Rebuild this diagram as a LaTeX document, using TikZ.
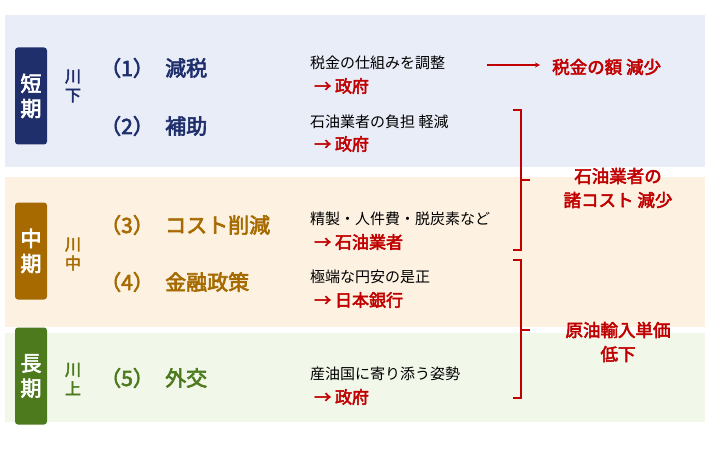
\documentclass[tikz,border=0pt]{standalone}
\usepackage{fontspec}
\setmainfont{Noto Sans CJK JP}
\newfontfamily\jpb{Noto Sans CJK JP}[FakeBold=3]
\begin{document}
\begin{tikzpicture}[x=1pt,y=-1pt,
  tag/.style={rounded corners=3pt,text=white,font=\jpb\fontsize{21}{25}\selectfont,minimum width=32pt,minimum height=97pt,inner sep=0pt,align=center},
  vt/.style={font=\jpb\fontsize{16}{19}\selectfont,align=center,inner sep=0pt},
  num/.style={font=\jpb\fontsize{21}{24}\selectfont,anchor=west,inner sep=0pt},
  ttl/.style={font=\jpb\fontsize{21}{24}\selectfont,anchor=west,inner sep=0pt},
  dsc/.style={font=\fontsize{15}{18}\selectfont,anchor=west,inner sep=0pt},
  who/.style={font=\jpb\fontsize{17}{20}\selectfont,anchor=west,inner sep=0pt,text=red0},
  res/.style={font=\jpb\fontsize{17.5}{24}\selectfont,align=center,text=red0,inner sep=0pt},
  brk/.style={draw=red0,line width=1.3pt}]
\definecolor{navy}{HTML}{1F2F6B}
\definecolor{brn}{HTML}{A66A00}
\definecolor{grn}{HTML}{4C7A1C}
\definecolor{red0}{HTML}{C00000}
\definecolor{bb}{HTML}{E9EDF8}
\definecolor{bg}{HTML}{FDF2E2}
\definecolor{bgr}{HTML}{F1F8EA}
\useasboundingbox (0,0) rectangle (708,449);
\fill[white] (0,0) rectangle (708,449);
\fill[bb] (5,15) rectangle (705,167);
\fill[bg] (5,177) rectangle (705,327);
\fill[bgr] (5,333) rectangle (705,422);
\node[tag,fill=navy] (t1) at (31,96) {短\\期};
\node[tag,fill=brn] (t2) at (31,251) {中\\期};
\node[tag,fill=grn] (t3) at (31,376) {長\\期};
\node[vt,text=navy] (v1) at (73,86) {川\\下};
\node[vt,text=brn] (v2) at (73,254) {川\\中};
\node[vt,text=grn] (v3) at (73,379) {川\\上};
\node[num,text=navy] (n1) at (100,68) {（1）};
\node[ttl,text=navy] (h1) at (165,68) {減税};
\node[num,text=navy] (n2) at (100,126) {（2）};
\node[ttl,text=navy] (h2) at (165,126) {補助};
\node[num,text=brn] (n3) at (100,225) {（3）};
\node[ttl,text=brn] (h3) at (165,225) {コスト削減};
\node[num,text=brn] (n4) at (100,282) {（4）};
\node[ttl,text=brn] (h4) at (165,282) {金融政策};
\node[num,text=grn] (n5) at (100,378) {（5）};
\node[ttl,text=grn] (h5) at (165,378) {外交};
\node[dsc] (d1) at (310,63) {税金の仕組みを調整};
\node[who] (w1) at (314,86) {→ 政府};
\node[dsc] (d2) at (310,122) {石油業者の負担 軽減};
\node[who] (w2) at (314,144) {→ 政府};
\node[dsc] (d3) at (310,219) {精製・人件費・脱炭素など};
\node[who] (w3) at (314,242) {→ 石油業者};
\node[dsc] (d4) at (310,277) {極端な円安の是正};
\node[who] (w4) at (314,300) {→ 日本銀行};
\node[dsc] (d5) at (310,374) {産油国に寄り添う姿勢};
\node[who] (w5) at (314,397) {→ 政府};
\coordinate (a0) at (487,65);
\coordinate (a1) at (540,65);
\node[res,anchor=west] (r1) at (552,67) {税金の額 減少};
\draw[red0,line width=1.2pt,-stealth] (a0) -- (a1);
\node[res] (r2) at (618,188) {石油業者の\\諸コスト 減少};
\node[res] (r3) at (618,342) {原油輸入単価\\低下};
\draw[brk] (513,110) -- (521,110) -- (521,250) -- (513,250);
\draw[brk] (521,180) -- (530,180);
\draw[brk] (513,260) -- (521,260) -- (521,398) -- (513,398);
\draw[brk] (521,330) -- (530,330);
\end{tikzpicture}
\end{document}
